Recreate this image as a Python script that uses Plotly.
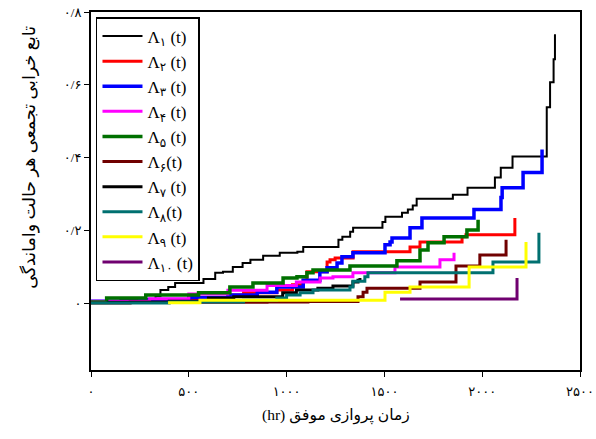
import plotly.graph_objects as go

# ---- data ----
t1 = [0, 150, 330, 355, 395, 430, 575, 635, 675, 725, 775, 815, 880, 965, 1055, 1085, 1265, 1285, 1325, 1340,
      1490, 1505, 1590, 1620, 1645, 1665, 1850, 1925, 2065, 2095, 2155, 2330, 2347, 2365, 2372]
v1 = [0.005, 0.011, 0.019, 0.036, 0.044, 0.055, 0.066, 0.083, 0.086, 0.099, 0.110, 0.119, 0.130, 0.138, 0.141,
      0.154, 0.174, 0.182, 0.196, 0.207, 0.223, 0.237, 0.248, 0.257, 0.268, 0.287, 0.298, 0.317, 0.345, 0.372,
      0.403, 0.538, 0.607, 0.670, 0.739]

t2 = [0, 300, 600, 720, 780, 950, 1030, 1085, 1104, 1207, 1222, 1248, 1340, 1631, 1682, 1897, 1917, 2167]
v2 = [0.003, 0.008, 0.015, 0.022, 0.028, 0.036, 0.050, 0.063, 0.086, 0.113, 0.119, 0.124, 0.141, 0.154, 0.168,
      0.182, 0.188, 0.234]

t3 = [0, 250, 500, 700, 850, 950, 1085, 1170, 1207, 1258, 1283, 1339, 1503, 1529, 1539, 1631, 1692, 1958, 2096,
      2102, 2209, 2306]
v3 = [0.005, 0.010, 0.015, 0.022, 0.030, 0.044, 0.063, 0.086, 0.097, 0.110, 0.127, 0.138, 0.160, 0.168, 0.179,
      0.207, 0.234, 0.257, 0.290, 0.317, 0.359, 0.422]

t4 = [0, 300, 500, 700, 900, 1050, 1171, 1237, 1339, 1554, 1784, 1856]
v4 = [0.005, 0.012, 0.025, 0.035, 0.048, 0.058, 0.069, 0.072, 0.083, 0.099, 0.119, 0.138]

t5 = [0, 80, 280, 550, 710, 828, 982, 1053, 1104, 1135, 1324, 1564, 1682, 1723, 1805, 1922, 1979]
v5 = [0.003, 0.014, 0.022, 0.028, 0.044, 0.055, 0.069, 0.072, 0.083, 0.091, 0.102, 0.116, 0.146, 0.166, 0.182,
      0.201, 0.229]

t6 = [0, 200, 900, 1109, 1365, 1391, 1411, 1682, 1866, 1988, 2122]
v6 = [0.000, 0.002, 0.003, 0.004, 0.017, 0.030, 0.041, 0.058, 0.102, 0.132, 0.174]

t7 = [80, 400, 600, 730, 980, 1050, 1160, 1237, 1339, 1365, 1375]
v7 = [0.002, 0.005, 0.014, 0.017, 0.028, 0.036, 0.041, 0.047, 0.058, 0.063, 0.069]

t8 = [0, 400, 780, 950, 1000, 1069, 1135, 1324, 1339, 1400, 1416, 2055, 2290]
v8 = [0.000, 0.003, 0.008, 0.014, 0.022, 0.028, 0.036, 0.044, 0.060, 0.072, 0.083, 0.113, 0.193]

t9 = [394, 557, 1503, 1631, 1933, 2224]
v9 = [0.001, 0.008, 0.030, 0.044, 0.099, 0.168]

t10 = [1580, 2178]
v10 = [0.011, 0.069]

names = ["Λ<sub>۱</sub> (t)", "Λ<sub>۲</sub> (t)", "Λ<sub>۳</sub> (t)", "Λ<sub>۴</sub> (t)", "Λ<sub>۵</sub> (t)",
         "Λ<sub>۶</sub>(t)", "Λ<sub>۷</sub> (t)", "Λ<sub>۸</sub>(t)", "Λ<sub>۹</sub> (t)", "Λ<sub>۱۰</sub> (t)"]
colors = ["#000000", "#FF0000", "#0000FF", "#FF00FF", "#007000", "#700000", "#000000", "#007070", "#FFFF00", "#700070"]
widths = [2, 3, 3.5, 3, 3.5, 3, 3, 3, 3, 3]

xticks = [0, 500, 1000, 1500, 2000, 2500]
xticktext = ["۰", "۵۰۰", "۱۰۰۰", "۱۵۰۰", "۲۰۰۰", "۲۵۰۰"]
yticks = [0, 0.2, 0.4, 0.6, 0.8]
yticktext = ["۰", "۰/۲", "۰/۴", "۰/۶", "۰/۸"]

series = [(t1, v1), (t2, v2), (t3, v3), (t4, v4), (t5, v5), (t6, v6), (t7, v7), (t8, v8), (t9, v9), (t10, v10)]

FONT = "Liberation Serif, DejaVu Sans, serif"

fig = go.Figure()
for i, (t, v) in enumerate(series):
    fig.add_trace(go.Scatter(x=t, y=v, mode="lines", name=names[i],
                             line=dict(color=colors[i], width=widths[i], shape="hv"),
                             legendgroup=str(i)))

fig.update_layout(
    width=596, height=439,
    margin=dict(l=91, r=16, t=12, b=69, autoexpand=False),
    paper_bgcolor="white", plot_bgcolor="white",
    font=dict(family=FONT, color="black", size=13),
    showlegend=True,
    legend=dict(x=0.0102, y=0.986, xanchor="left", yanchor="top",
                bgcolor="white", bordercolor="black", borderwidth=1.5,
                font=dict(family=FONT, size=17, color="black"),
                itemwidth=40, tracegroupgap=0),
    xaxis=dict(range=[0, 2500], tickvals=xticks, ticktext=xticktext, automargin=False,
               showgrid=False, zeroline=False, showline=True, mirror=True,
               linecolor="black", linewidth=2, ticks="outside", ticklen=5,
               tickcolor="black", tickfont=dict(size=13), ticklabelstandoff=3),
    yaxis=dict(range=[-0.184, 0.8], tickvals=yticks, ticktext=yticktext, automargin=False,
               showgrid=False, zeroline=False, showline=True, mirror=True,
               linecolor="black", linewidth=2, ticks="outside", ticklen=5,
               tickcolor="black", tickfont=dict(size=13)),
    annotations=[
        dict(text="(hr) زمان پروازی موفق", xref="paper", yref="paper", x=0.5, y=-0.128,
             xanchor="center", yanchor="middle", showarrow=False, font=dict(size=15.5, family=FONT)),
        dict(text="تابع خرابی تجمعی هر حالت واماندگی", xref="paper", yref="paper", x=-0.125, y=0.595,
             xanchor="center", yanchor="middle", textangle=-90, showarrow=False,
             font=dict(size=17.5, family=FONT)),
    ],
)

fig.write_html("out.html")
